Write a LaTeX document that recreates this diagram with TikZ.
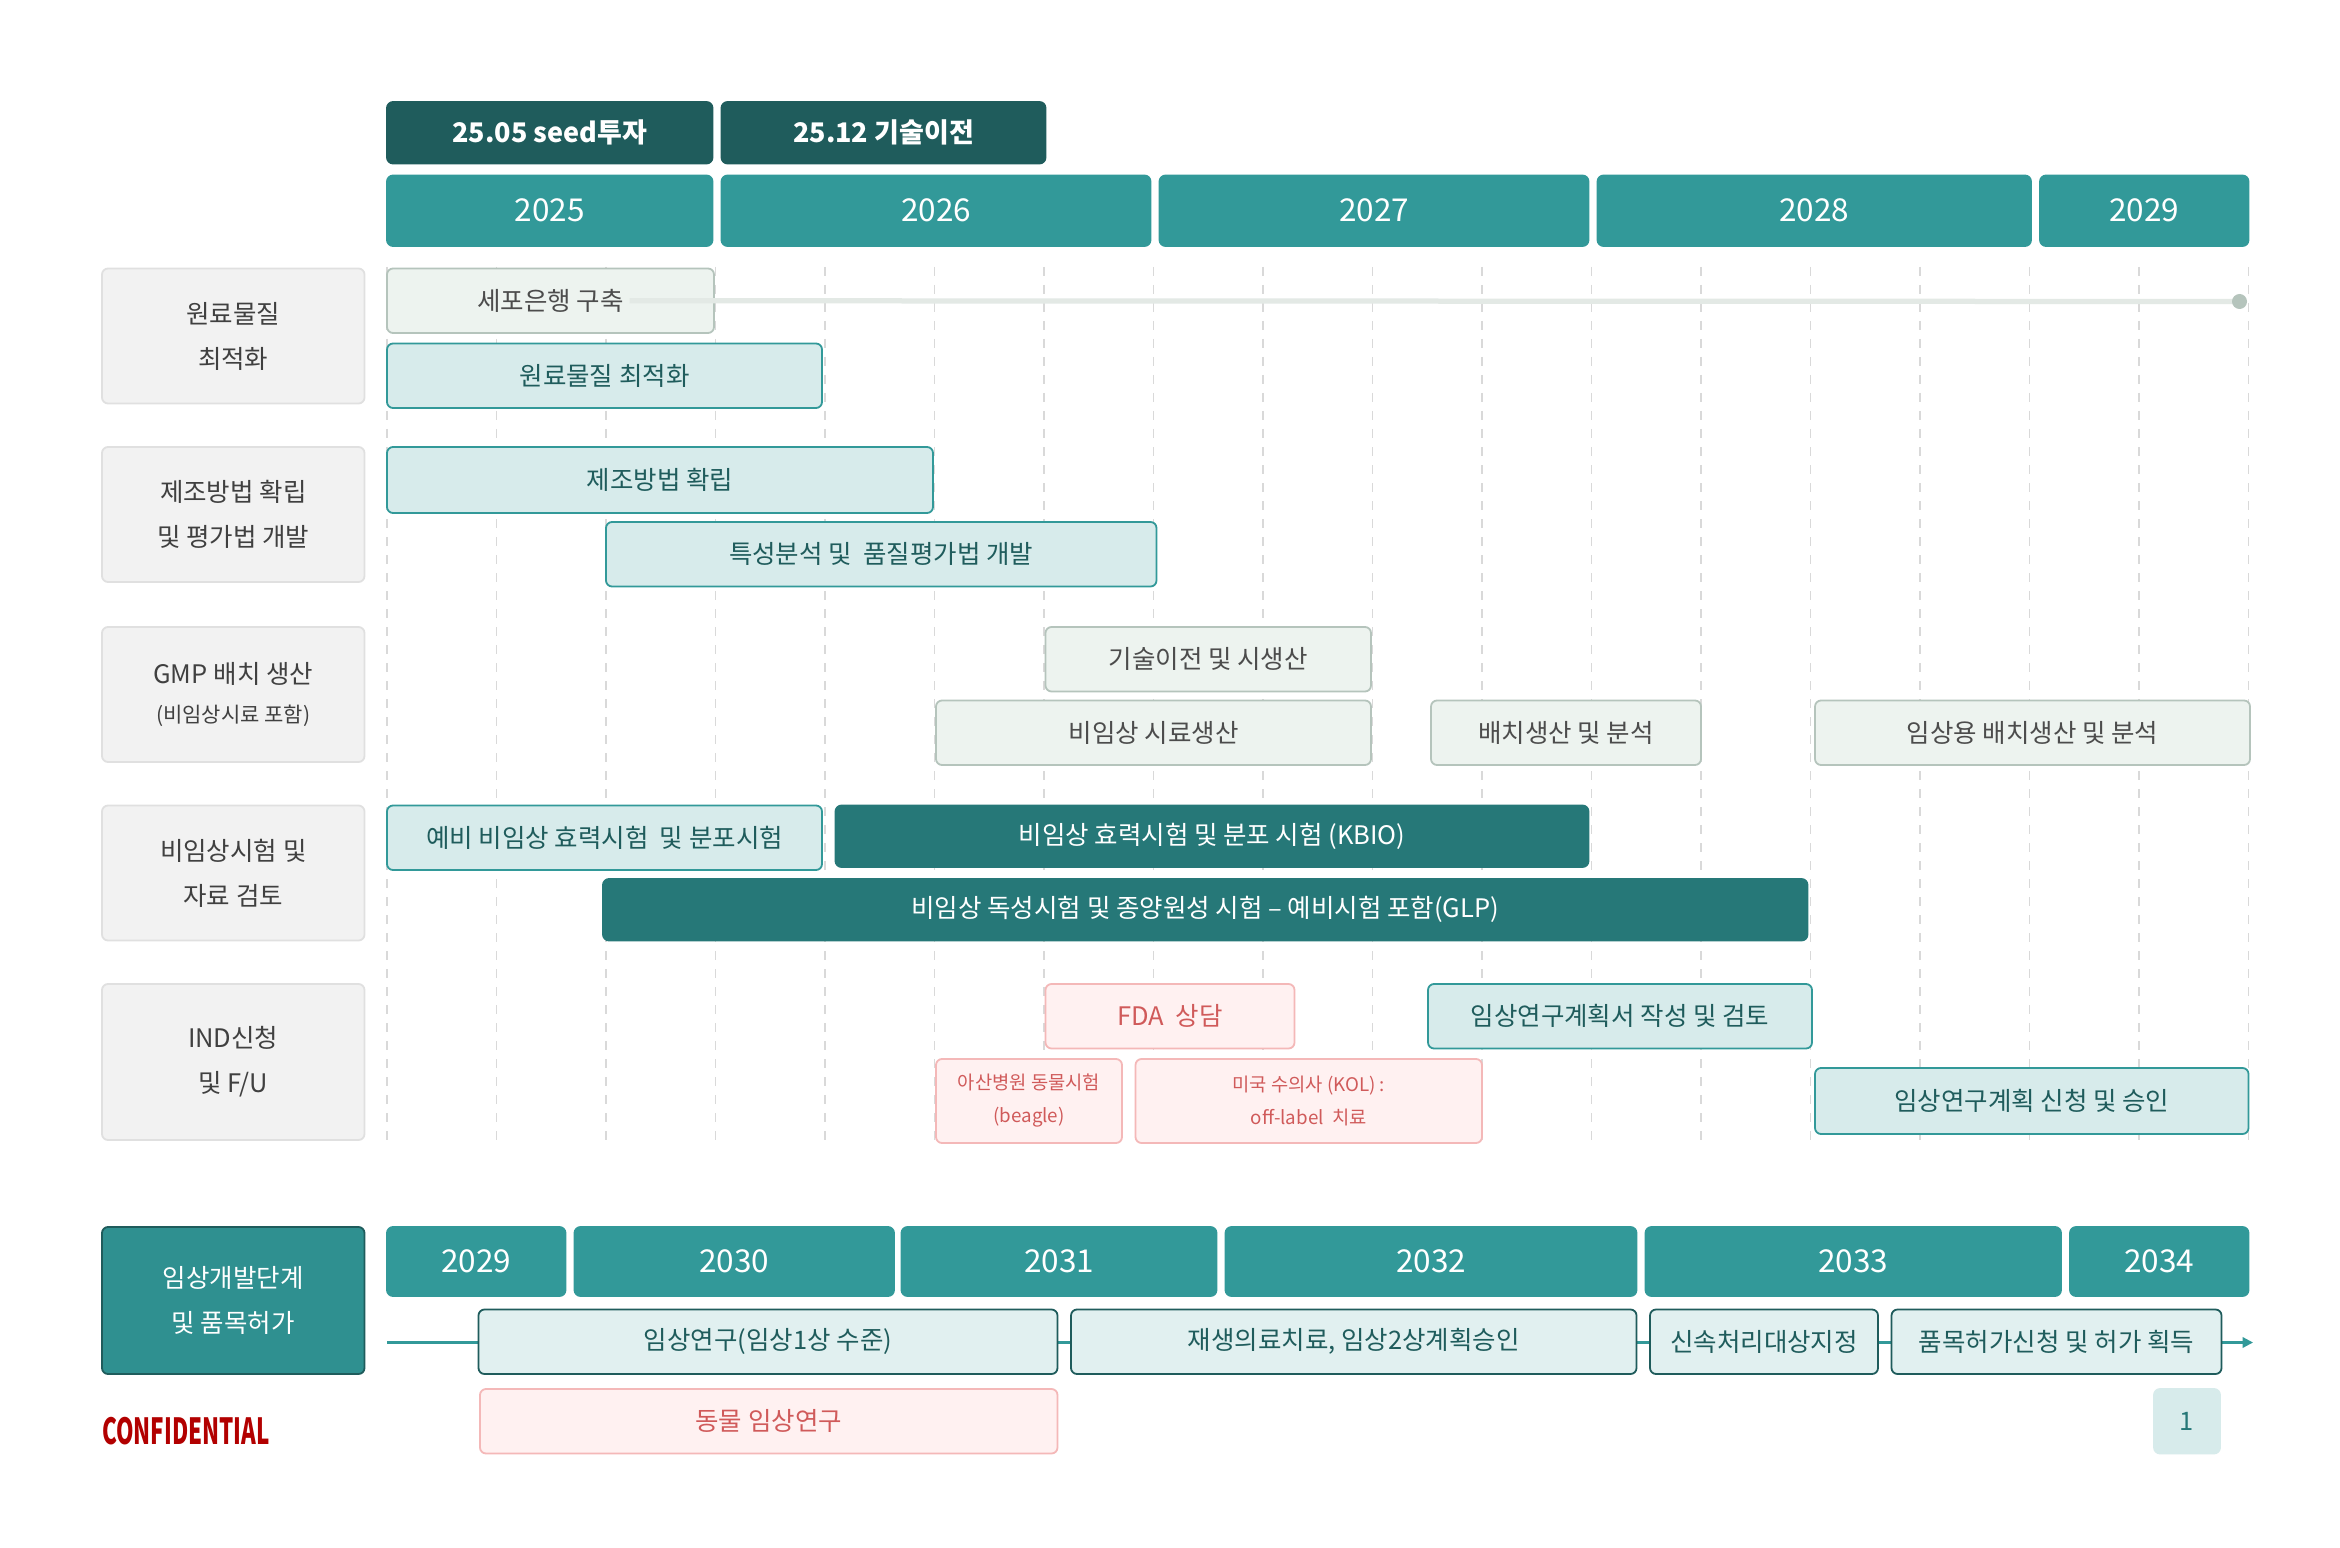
\documentclass[tikz,border=0pt]{standalone}
\usepackage{fontspec}
\setmainfont{Noto Sans CJK KR}
\usetikzlibrary{arrows.meta}
\definecolor{dk}{HTML}{1F5C5C}
\definecolor{tl}{HTML}{329999}
\definecolor{tlf}{HTML}{D7EBEB}
\definecolor{gyf}{HTML}{EDF3EF}
\definecolor{gyb}{HTML}{B5C4BC}
\definecolor{pkf}{HTML}{FFF1F1}
\definecolor{pkb}{HTML}{F4B8B8}
\definecolor{pkt}{HTML}{D05A5A}
\definecolor{mid}{HTML}{267878}
\begin{document}
\begin{tikzpicture}[x=1pt,y=-1pt,
 bx/.style={rounded corners=4pt,line width=1.2pt},
 ms/.style={bx,fill=dk,draw=dk,text=white,font=\fontsize{18}{20}\selectfont\bfseries},
 yr/.style={bx,fill=tl,draw=tl,text=white,font=\fontsize{21}{24}\selectfont},
 rl/.style={bx,fill=black!5,draw=black!12,text=black!75,font=\fontsize{17}{30}\selectfont,align=center},
 gy/.style={bx,fill=gyf,draw=gyb,text=black!70,font=\fontsize{17}{20}\selectfont},
 tb/.style={bx,fill=tlf,draw=tl,text=dk,font=\fontsize{17}{20}\selectfont},
 db/.style={bx,fill=mid,draw=mid,text=white,font=\fontsize{17}{20}\selectfont},
 pk/.style={bx,fill=pkf,draw=pkb,text=pkt,font=\fontsize{17}{20}\selectfont},
 ps/.style={pk,font=\fontsize{12.5}{22}\selectfont,align=center},
 bb/.style={bx,fill=tlf!75!white,draw=dk,text=dk,font=\fontsize{17}{20}\selectfont}]
\def\R#1#2#3#4#5#6#7{\path[#6] (#2,#3) rectangle (#4,#5) node[pos=.5] (#1) {#7};}
\useasboundingbox (0,0) rectangle (1560,1032);
\fill[white] (0,0) rectangle (1560,1032);
\foreach \i in {0,...,17} \draw[black!15,dashed,line width=0.8pt,dash pattern=on 6pt off 6pt] (258+73*\i,178) -- (258+73*\i,760);
\R{m1}{258}{68}{475}{109}{ms}{25.05 seed투자}
\R{m2}{481}{68}{697}{109}{ms}{25.12 기술이전}
\R{y1}{258}{117}{475}{164}{yr}{2025}
\R{y2}{481}{117}{767}{164}{yr}{2026}
\R{y3}{773}{117}{1059}{164}{yr}{2027}
\R{y4}{1065}{117}{1354}{164}{yr}{2028}
\R{y5}{1360}{117}{1499}{164}{yr}{2029}
\R{r1}{68}{179}{243}{269}{rl}{원료물질\\최적화}
\R{r2}{68}{298}{243}{388}{rl}{제조방법 확립\\및 평가법 개발}
\path[rl] (68,418) rectangle (243,508) node[pos=.5,align=center] (r3) {GMP 배치 생산\\[-4pt]{\fontsize{14}{16}\selectfont (비임상시료 포함)}};
\R{r4}{68}{537}{243}{627}{rl}{비임상시험 및\\자료 검토}
\R{r5}{68}{656}{243}{760}{rl}{IND신청\\및 F/U}
\coordinate (end) at (1493,201);
\R{a1}{258}{179}{476}{222}{gy}{세포은행 구축}
\draw[gyf!60!gyb!70!white,line width=3.5pt] (a1.east) -- (end);
\fill[gyb] (end) circle (5pt);
\R{a2}{258}{229}{548}{272}{tb}{원료물질 최적화}
\R{b1}{258}{298}{622}{342}{tb}{제조방법 확립}
\R{b2}{404}{348}{771}{391}{tb}{특성분석 및 \ 품질평가법 개발}
\R{c1}{697}{418}{914}{461}{gy}{기술이전 및 시생산}
\R{c2}{624}{467}{914}{510}{gy}{비임상 시료생산}
\R{c3}{954}{467}{1134}{510}{gy}{배치생산 및 분석}
\R{c4}{1210}{467}{1500}{510}{gy}{임상용 배치생산 및 분석}
\R{d1}{258}{537}{548}{580}{tb}{예비 비임상 효력시험 \ 및 분포시험}
\R{d2}{557}{537}{1059}{578}{db}{비임상 효력시험 및 분포 시험 (KBIO)}
\R{d3}{402}{586}{1205}{627}{db}{비임상 독성시험 및 종양원성 시험 – 예비시험 포함(GLP)}
\R{e1}{697}{656}{863}{699}{pk}{FDA \ 상담}
\R{e2}{952}{656}{1208}{699}{tb}{임상연구계획서 작성 및 검토}
\R{e3}{624}{706}{748}{762}{ps}{아산병원 동물시험\\(beagle)}
\R{e4}{757}{706}{988}{762}{ps}{미국 수의사 (KOL) :\\off-label \ 치료}
\R{e5}{1210}{712}{1499}{756}{tb}{임상연구계획 신청 및 승인}
\path[bx,fill=tl!85!dk,draw=dk] (68,818) rectangle (243,916) node[pos=.5,align=center,text=white,font=\fontsize{17}{30}\selectfont] (ph) {임상개발단계\\및 품목허가};
\R{z1}{258}{818}{377}{864}{yr}{2029}
\R{z2}{383}{818}{596}{864}{yr}{2030}
\R{z3}{601}{818}{811}{864}{yr}{2031}
\R{z4}{817}{818}{1091}{864}{yr}{2032}
\R{z5}{1097}{818}{1374}{864}{yr}{2033}
\R{z6}{1380}{818}{1499}{864}{yr}{2034}
\coordinate (ls) at (258,895);
\coordinate (le) at (1502,895);
\draw[tl,line width=1.5pt,-{Triangle[length=7pt,width=7pt]}] (ls) -- (le);
\R{f1}{319}{873}{705}{916}{bb}{임상연구(임상1상 수준)}
\R{f2}{714}{873}{1091}{916}{bb}{재생의료치료, 임상2상계획승인}
\R{f3}{1100}{873}{1252}{916}{bb}{신속처리대상지정}
\R{f4}{1261}{873}{1481}{916}{bb}{품목허가신청 및 허가 획득}
\R{g1}{320}{926}{705}{969}{pk}{동물 임상연구}
\node[anchor=west,text=red!70!black,inner sep=0pt] (cf) at (68,954) {\scalebox{0.62}[1]{\fontsize{24}{26}\selectfont\bfseries CONFIDENTIAL}};
\R{pg}{1436}{926}{1480}{969}{bx,fill=tlf,draw=tlf,text=mid,font=\fontsize{17}{20}\selectfont}{1}
\end{tikzpicture}
\end{document}
